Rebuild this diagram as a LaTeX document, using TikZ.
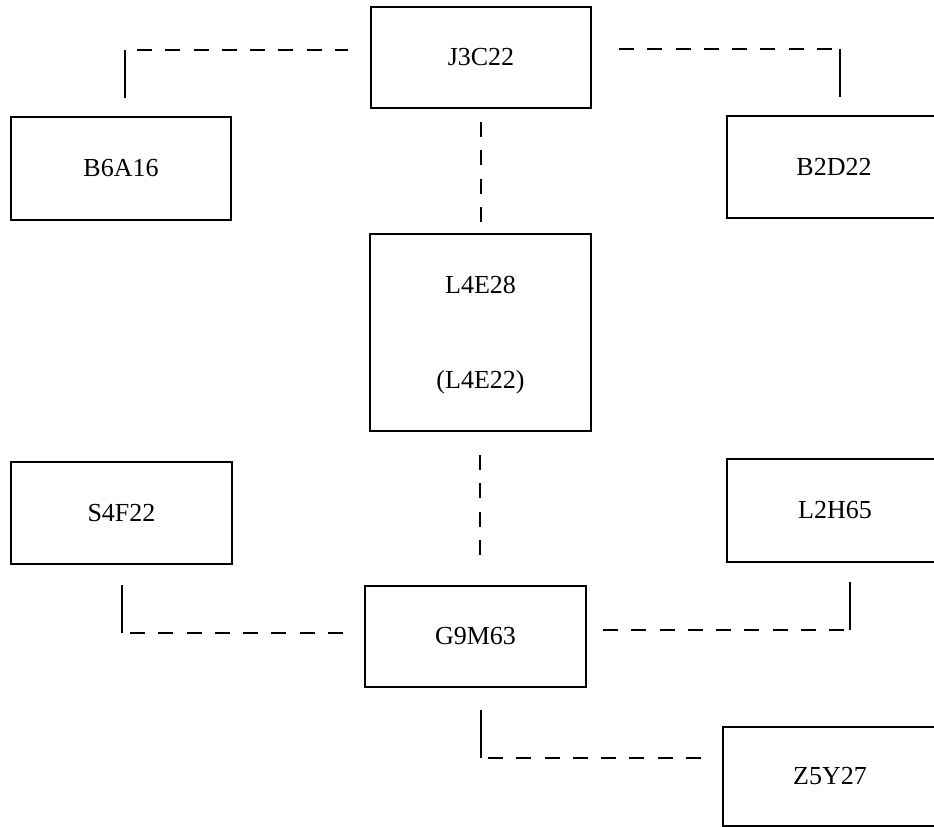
\documentclass[tikz,border=0pt]{standalone}
\usepackage{fontspec}
\setmainfont{Liberation Serif}
\tikzset{
  box/.style={draw,line width=0.8pt,inner sep=0pt,minimum width=4.4cm,minimum height=2.04cm,font=\fontsize{14.8}{17}\selectfont},
  boxtext/.style={inner sep=0pt,font=\fontsize{14.8}{17}\selectfont},
  link/.style={line width=0.75pt,dash pattern=on 8.5pt off 7.6pt},
  stem/.style={line width=0.6pt}
}
\begin{document}
\begin{tikzpicture}[x=0.02cm,y=-0.02cm]
\useasboundingbox (0,0) rectangle (934,827);
\node[box,minimum height=2.02cm] (j3c22) at (481,57.5) {J3C22};
\node[box,minimum height=2.06cm] (b6a16) at (121,168.5) {B6A16};
\node[box,minimum width=4.28cm] (b2d22) at (834,167) {B2D22};
\node[box,minimum width=4.42cm,minimum height=3.94cm] (l4e28) at (480.5,332.5) {};
\node[boxtext] (l4e28a) at (480.5,285) {L4E28};
\node[boxtext] (l4e28b) at (480.5,382) {(L4E22)};
\node[box,minimum width=4.42cm] (s4f22) at (121.5,513) {S4F22};
\node[box,minimum width=4.32cm,minimum height=2.06cm] (l2h65) at (835,510.5) {L2H65};
\node[box,minimum width=4.42cm,minimum height=2.02cm] (g9m63) at (475.5,636.5) {G9M63};
\node[box,minimum width=4.28cm,minimum height=1.98cm] (z5y27) at (830,776.5) {Z5Y27};
% links from J3C22
\coordinate (jw) at (137,50);
\coordinate (jwe) at (348,50);
\coordinate (jwt) at (125,50);
\coordinate (jwb) at (125,98);
\draw[link] (jw) -- (jwe);
\draw[stem] (jwt) -- (jwb);
\coordinate (je) at (619,49);
\coordinate (jee) at (834,49);
\coordinate (jet) at (840,49);
\coordinate (jeb) at (840,97);
\draw[link] (je) -- (jee);
\draw[stem] (jet) -- (jeb);
\coordinate (js) at (481,122);
\coordinate (jse) at (481,224);
\draw[link] (js) -- (jse);
% links from G9M63
\coordinate (gn) at (480,455);
\coordinate (gne) at (480,568);
\draw[link] (gn) -- (gne);
\coordinate (gw) at (130,633);
\coordinate (gwe) at (346,633);
\coordinate (gwb) at (122,633);
\coordinate (gwt) at (122,585);
\draw[link] (gw) -- (gwe);
\draw[stem] (gwb) -- (gwt);
\coordinate (ge) at (603,630);
\coordinate (gee) at (844,630);
\coordinate (geb) at (850,630);
\coordinate (get) at (850,582);
\draw[link] (ge) -- (gee);
\draw[stem] (geb) -- (get);
\coordinate (gs) at (481,710);
\coordinate (gsb) at (481,758);
\coordinate (gsl) at (488,758);
\coordinate (gsr) at (704,758);
\draw[stem] (gs) -- (gsb);
\draw[link] (gsl) -- (gsr);
\end{tikzpicture}
\end{document}
